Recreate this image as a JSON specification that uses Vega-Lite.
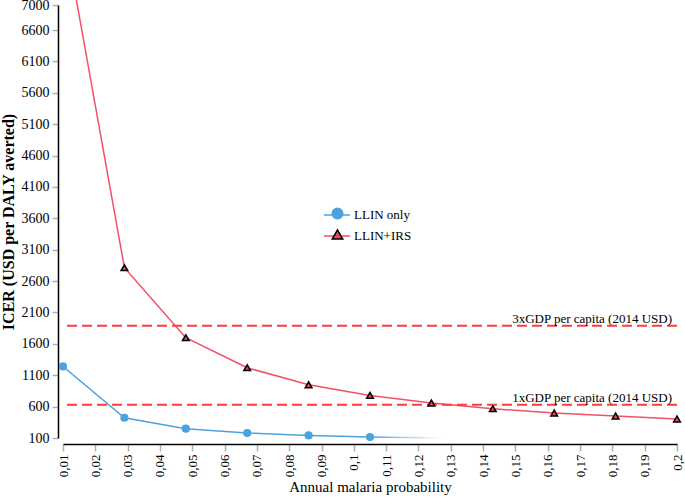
{
  "$schema": "https://vega.github.io/schema/vega-lite/v6.json",
  "width": 614,
  "height": 433,
  "autosize": {"type": "none"},
  "padding": {"left": 63, "top": 5, "right": 8, "bottom": 59},
  "background": "white",
  "config": {
    "view": {"stroke": null},
    "font": "Liberation Serif",
    "axis": {
      "labelFont": "Liberation Serif",
      "titleFont": "Liberation Serif",
      "labelColor": "black",
      "titleColor": "black",
      "domainColor": "black",
      "domainWidth": 1.5,
      "tickColor": "#b0b0b0",
      "tickWidth": 1.5,
      "grid": false,
      "labelOverlap": false,
      "labelBound": false,
      "labelFlush": false
    },
    "legend": {
      "labelFont": "Liberation Serif",
      "labelColor": "black"
    },
    "text": {"font": "Liberation Serif"}
  },
  "datasets": {
    "icer": [
      {"p": 0.01, "icer": 1240, "series": "LLIN only"},
      {"p": 0.029, "icer": 423, "series": "LLIN only"},
      {"p": 0.048, "icer": 248, "series": "LLIN only"},
      {"p": 0.067, "icer": 180, "series": "LLIN only"},
      {"p": 0.086, "icer": 141, "series": "LLIN only"},
      {"p": 0.105, "icer": 116, "series": "LLIN only"},
      {"p": 0.01, "icer": 8270, "series": "LLIN+IRS"},
      {"p": 0.029, "icer": 2814, "series": "LLIN+IRS"},
      {"p": 0.048, "icer": 1698, "series": "LLIN+IRS"},
      {"p": 0.067, "icer": 1220, "series": "LLIN+IRS"},
      {"p": 0.086, "icer": 949, "series": "LLIN+IRS"},
      {"p": 0.105, "icer": 779, "series": "LLIN+IRS"},
      {"p": 0.124, "icer": 658, "series": "LLIN+IRS"},
      {"p": 0.143, "icer": 567, "series": "LLIN+IRS"},
      {"p": 0.162, "icer": 498, "series": "LLIN+IRS"},
      {"p": 0.181, "icer": 451, "series": "LLIN+IRS"},
      {"p": 0.2, "icer": 403, "series": "LLIN+IRS"}
    ],
    "gdp": [
      {"label": "3xGDP per capita (2014 USD)", "gdp": 1890},
      {"label": "1xGDP per capita (2014 USD)", "gdp": 630}
    ],
    "fade": [
      {"p": 0.105, "icer": 116},
      {"p": 0.127, "icer": 101}
    ]
  },
  "layer": [
    {
      "data": {"name": "icer"},
      "mark": {"type": "line", "strokeWidth": 1.5},
      "encoding": {
        "x": {
          "field": "p",
          "type": "quantitative",
          "scale": {"domain": [0.01, 0.2], "nice": false, "zero": false},
          "axis": {
            "title": "Annual malaria probability",
            "titleFont": "Liberation Serif",
            "titleFontSize": 15,
            "titleFontWeight": "normal",
            "titlePadding": 3,
            "offset": 6,
            "values": [0.01,0.02,0.03,0.04,0.05,0.06,0.07,0.08,0.09,0.1,0.11,0.12,0.13,0.14,0.15,0.16,0.17,0.18,0.19,0.2],
            "tickCount": 100,
            "labelExpr": "replace(format(datum.value, '.2~f'), '.', ',')",
            "labelAngle": -90,
            "labelFont": "Liberation Serif",
            "labelFontSize": 13,
            "labelPadding": 3,
            "labelOverlap": false,
            "tickSize": 7
          }
        },
        "y": {
          "field": "icer",
          "type": "quantitative",
          "scale": {"domain": [100, 7000], "nice": false, "zero": false},
          "axis": {
            "title": "ICER (USD per DALY averted)",
            "titleFont": "Liberation Serif",
            "titleFontSize": 16,
            "titleFontWeight": "bold",
            "titlePadding": 5,
            "offset": 5,
            "values": [100,600,1100,1600,2100,2600,3100,3600,4100,4600,5100,5600,6100,6600,7000],
            "tickCount": 100,
            "format": "d",
            "labelFont": "Liberation Serif",
            "labelFontSize": 14,
            "labelPadding": 3,
            "labelOverlap": false,
            "tickSize": 6
          }
        },
        "color": {
          "field": "series",
          "type": "nominal",
          "scale": {"domain": ["LLIN only", "LLIN+IRS"], "range": ["#4ba3dd", "#f24f69"]},
          "legend": {
            "title": null,
            "orient": "none",
            "legendX": 260,
            "legendY": 196,
            "padding": 0,
            "symbolType": "stroke",
            "symbolSize": 676,
            "symbolStrokeWidth": 1.5,
            "labelFont": "Liberation Serif",
            "labelFontSize": 13,
            "labelOffset": 3,
            "rowPadding": -2
          }
        }
      }
    },
    {
      "data": {"name": "gdp"},
      "mark": {"type": "rule", "color": "#ff3b3b", "strokeWidth": 2, "strokeDash": [10, 5]},
      "encoding": {
        "y": {"field": "gdp", "type": "quantitative"}
      }
    },
    {
      "data": {"name": "gdp"},
      "mark": {"type": "text", "align": "right", "baseline": "alphabetic", "dx": -5, "dy": -3, "fontSize": 13, "font": "Liberation Serif", "color": "black"},
      "encoding": {
        "x": {"datum": 0.2, "type": "quantitative"},
        "y": {"field": "gdp", "type": "quantitative"},
        "text": {"field": "label", "type": "nominal"}
      }
    },
    {
      "data": {"name": "fade"},
      "mark": {
        "type": "line",
        "strokeWidth": 1.5,
        "stroke": {"gradient": "linear", "x1": 0, "y1": 0, "x2": 1, "y2": 0, "stops": [{"offset": 0, "color": "#4ba3dd"}, {"offset": 1, "color": "#ffffff"}]}
      },
      "encoding": {
        "x": {"field": "p", "type": "quantitative"},
        "y": {"field": "icer", "type": "quantitative"}
      }
    },
    {
      "data": {"name": "icer"},
      "mark": {"type": "point", "filled": true, "size": 45, "strokeWidth": 1.5, "opacity": 1},
      "encoding": {
        "x": {"field": "p", "type": "quantitative"},
        "y": {"field": "icer", "type": "quantitative"},
        "shape": {
          "field": "series",
          "type": "nominal",
          "scale": {"range": ["circle", "triangle-up"]},
          "legend": {"title": null, "orient": "none", "legendX": 268, "legendY": 202, "padding": 0, "symbolSize": 110, "symbolStrokeWidth": 1.5, "labelFont": "Liberation Serif", "labelFontSize": 13, "labelOffset": 3, "rowPadding": 4, "labelOpacity": 0}
        },
        "fill": {
          "field": "series",
          "type": "nominal",
          "scale": {"range": ["#4ba3dd", "#e8485d"]},
          "legend": {"title": null, "orient": "none", "legendX": 268, "legendY": 202, "padding": 0, "symbolSize": 110, "symbolStrokeWidth": 1.5, "labelFont": "Liberation Serif", "labelFontSize": 13, "labelOffset": 3, "rowPadding": 4, "labelOpacity": 0}
        },
        "stroke": {
          "field": "series",
          "type": "nominal",
          "scale": {"range": ["#4ba3dd", "#000000"]},
          "legend": {"title": null, "orient": "none", "legendX": 268, "legendY": 202, "padding": 0, "symbolSize": 110, "symbolStrokeWidth": 1.5, "labelFont": "Liberation Serif", "labelFontSize": 13, "labelOffset": 3, "rowPadding": 4, "labelOpacity": 0}
        }
      }
    }
  ]
}
